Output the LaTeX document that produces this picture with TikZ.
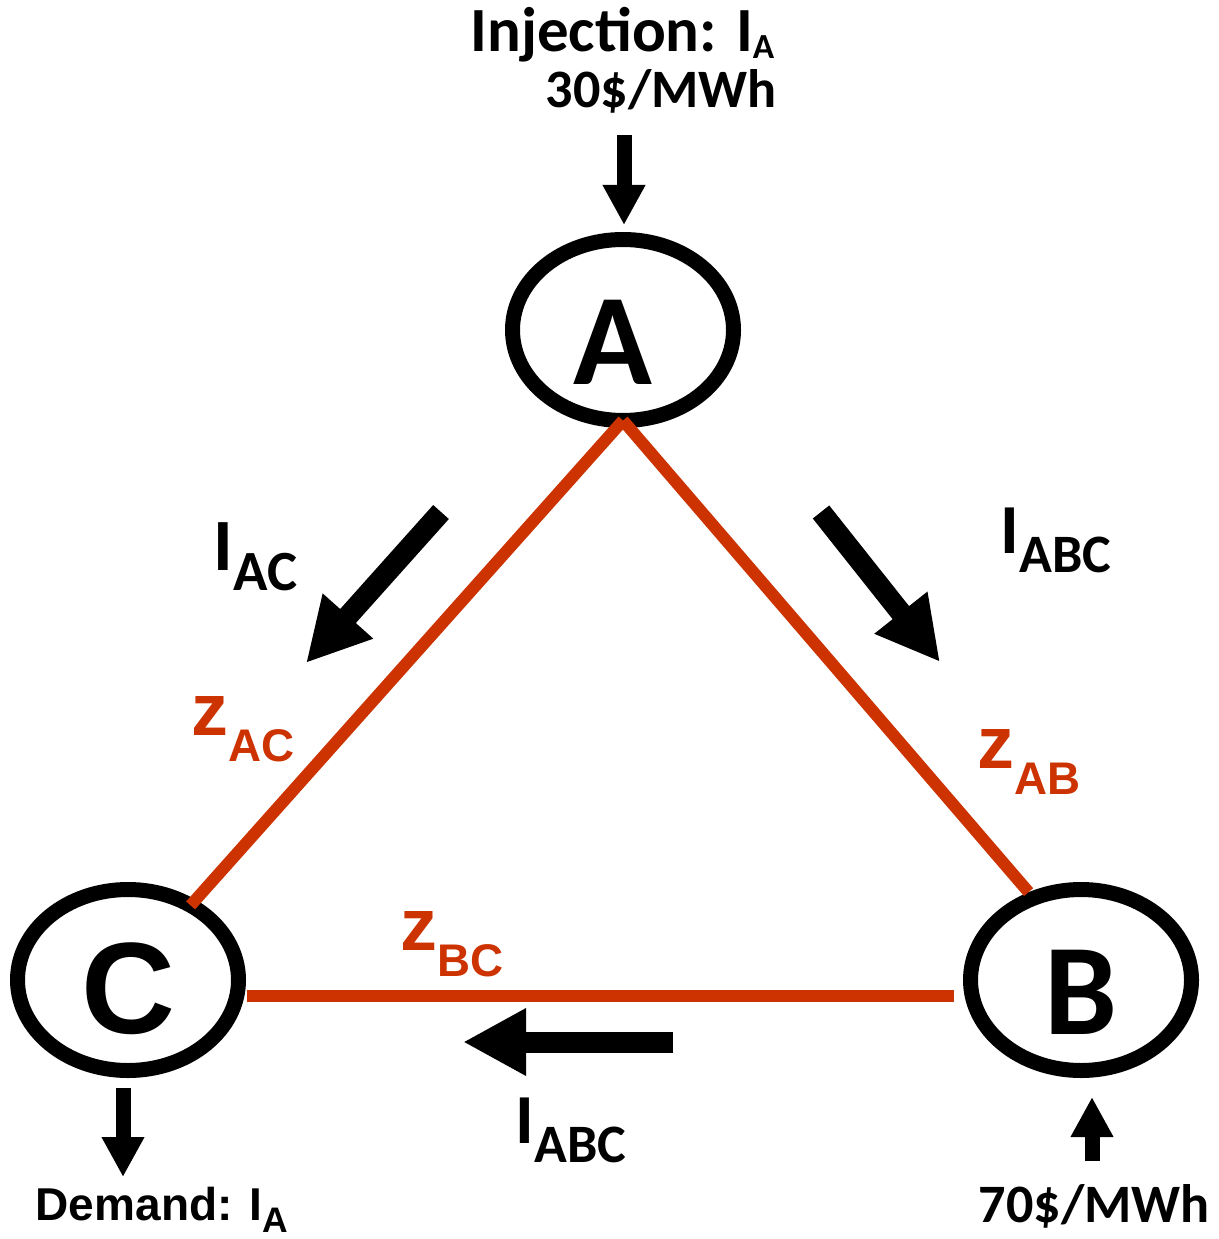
\documentclass[tikz,border=0pt]{standalone}
\usepackage{fontspec}
\setmainfont{Carlito}
\newfontfamily\arialfont{Liberation Sans}
\usepackage{graphicx}
\usetikzlibrary{shapes.geometric,arrows.meta,positioning,calc}

\definecolor{zred}{RGB}{204,51,0}

% subscripts as the slide sets them
\newcommand{\isub}[1]{\raisebox{-0.28em}{\scalebox{0.77}{#1}}}
\newcommand{\zsub}[1]{\raisebox{-0.36em}{\scalebox{0.62}{#1}}}

\begin{document}
\begin{tikzpicture}[
        bus/.style={ellipse, draw=black, fill=white, line width=0.15cm, minimum width=2.21cm, minimum height=1.81cm, inner sep=0pt, outer sep=0pt, text height=1.08cm, font=\fontsize{37}{44}\selectfont\bfseries},
        tieline/.style={draw=zred, line width=0.12cm},
        flow/.style={line width=0.21cm, -{Triangle[length=0.63cm, width=0.63cm]}},
        feed/.style={line width=0.15cm, -{Triangle[length=0.40cm, width=0.40cm]}},
        lbl/.style={inner sep=0pt, anchor=base west},
        zlbl/.style={inner sep=0pt, anchor=base west, text=zred, font=\arialfont\fontsize{21}{25}\selectfont\bfseries}
    ]
    \fill[white] (0,0) rectangle (12.19,-12.39);
    \useasboundingbox (0,0) rectangle (12.19,-12.39);

    % Buses
    \node[bus] (A) at (6.23,-3.30) {\hspace*{-0.2cm}A};
    \node[bus] (B) at (10.81,-9.80) {B};
    \node[bus, font=\arialfont\fontsize{37}{44}\selectfont\bfseries] (C) at (1.28,-9.80) {C};

    % Lines
    \draw[tieline] (A.south) -- (C.50);
    \draw[tieline, shorten >=0.08cm] (A.south) -- (B.120);
    \draw[tieline] ($(C.east)+(0.08,-0.155)$) -- ($(B.west)+(-0.165,-0.155)$);

    % Flows
    \coordinate (injtop) at (6.24,-1.35);
    \coordinate (injtip) at (6.24,-2.25);
    \coordinate (acs) at (4.41,-5.12);
    \coordinate (ace) at (3.06,-6.63);
    \coordinate (abs) at (8.21,-5.12);
    \coordinate (abe) at (9.40,-6.62);
    \coordinate (bcs) at (6.73,-10.42);
    \coordinate (bce) at (4.63,-10.42);
    \coordinate (demtop) at (1.23,-10.88);
    \coordinate (demtip) at (1.23,-11.77);
    \coordinate (genbot) at (10.92,-11.61);
    \coordinate (gentip) at (10.92,-10.97);

    \draw[feed] (injtop) -- (injtip);
    \draw[flow] (acs) -- (ace);
    \draw[flow] (abs) -- (abe);
    \draw[flow] (bcs) -- (bce);
    \draw[feed] (demtop) -- (demtip);
    \draw[feed] (genbot) -- (gentip);

    % Labels
    \node[lbl, text depth=0pt, font=\fontsize{17.9}{21}\selectfont\bfseries] (inj) at (4.70,-0.52) {Injection: I\raisebox{-0.1em}{\scalebox{0.56}{A}}};
    \node[lbl, font=\fontsize{15.4}{18}\selectfont\bfseries] (priceA) at (5.45,-1.08) {30\$/MWh};
    \node[lbl, font=\fontsize{21}{25}\selectfont\bfseries] (iac) at (2.13,-5.70) {I\isub{AC}};
    \node[lbl, font=\fontsize{20}{24}\selectfont\bfseries] (iabc) at (10.00,-5.53) {I\isub{ABC}};
    \node[lbl, font=\fontsize{20}{24}\selectfont\bfseries] (ibca) at (5.15,-11.43) {I\isub{ABC}};
    \node[lbl, font=\arialfont\fontsize{13.1}{16}\selectfont\bfseries] (dem) at (0.35,-12.20) {Demand: I\isub{A}};
    \node[lbl, font=\fontsize{15.4}{18}\selectfont\bfseries] (priceB) at (9.78,-12.22) {70\$/MWh};
    \node[zlbl] (zac) at (1.91,-7.35) {z\zsub{AC}};
    \node[zlbl] (zab) at (9.77,-7.68) {z\zsub{AB}};
    \node[zlbl] (zbc) at (4.00,-9.50) {z\zsub{BC}};
\end{tikzpicture}
\end{document}
